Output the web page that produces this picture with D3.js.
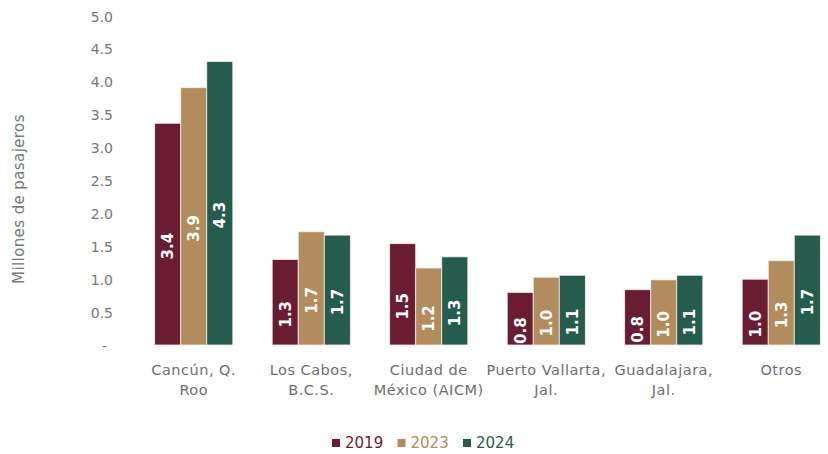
<!DOCTYPE html>
<html>
<head>
<meta charset="utf-8">
<script src="https://cdn.jsdelivr.net/npm/d3@7"></script>
<style>
  body { margin: 0; background: #fff; }
  svg text { font-family: "DejaVu Sans", sans-serif; }
</style>
</head>
<body>
<script>
'use strict';

// airports (two text lines each, as in the source)
const categories = ["Cancún", "Los Cabos", "CDMX", "Puerto Vallarta", "Guadalajara", "Otros"];
const catLines = [
  ["Cancún, Q.", "Roo"],
  ["Los Cabos,", "B.C.S."],
  ["Ciudad de", "México (AICM)"],
  ["Puerto Vallarta,", "Jal."],
  ["Guadalajara,", "Jal."],
  ["Otros", ""]
];
const years = ["2019", "2023", "2024"];
const colors = ["#6a1c32", "#b28c5c", "#255c4d"];

// millions of passengers
const v2019 = [3.37, 1.30, 1.54, 0.80, 0.84, 1.00];
const v2023 = [3.91, 1.72, 1.17, 1.03, 0.99, 1.28];
const v2024 = [4.31, 1.67, 1.34, 1.06, 1.06, 1.67];
const series = [v2019, v2023, v2024];

const yTicks = [0, 0.5, 1, 1.5, 2, 2.5, 3, 3.5, 4, 4.5, 5];

const W = 828, H = 454;

const svg = d3.select("body").append("svg")
  .attr("width", W)
  .attr("height", H);

const x = d3.scaleBand()
  .domain(categories)
  .range([135, 840])
  .paddingInner(0.335)
  .paddingOuter(0.1675);

const xs = d3.scaleBand()
  .domain(years)
  .range([0, x.bandwidth()]);

const y = d3.scaleLinear()
  .domain([0, 5])
  .range([345, 16]);

// y axis, labels only
const yAxis = d3.axisLeft(y)
  .tickValues(yTicks)
  .tickSize(0)
  .tickPadding(0)
  .tickFormat((d) => d === 0 ? "-" : d3.format(".1f")(d));

const gy = svg.append("g")
  .attr("transform", "translate(113,0)")
  .call(yAxis);
gy.select(".domain").remove();
gy.selectAll("text")
  .style("font-size", "14px")
  .attr("fill", "#767676")
  .attr("dy", "0.36em");
gy.selectAll("text").filter((d) => d === 0)
  .attr("dx", "-6px");

svg.append("text")
  .attr("transform", "translate(24,199)rotate(-90)")
  .attr("text-anchor", "middle")
  .style("font-size", "15px")
  .style("letter-spacing", "0.4px")
  .attr("fill", "#767676")
  .text("Millones de pasajeros");

// bars
const fmt = d3.format(".1f");
const rows = [];
categories.forEach((c, i) => {
  years.forEach((yr, j) => {
    rows.push({cat: c, year: yr, idx: j, value: series[j][i]});
  });
});

const bars = svg.append("g");
bars.selectAll("rect")
  .data(rows)
  .enter().append("rect")
    .attr("x", (d) => x(d.cat) + xs(d.year))
    .attr("y", (d) => y(d.value))
    .attr("width", xs.bandwidth())
    .attr("height", (d) => y(0) - y(d.value))
    .attr("fill", (d) => colors[d.idx])
    .attr("stroke", "#f4eeee")
    .attr("stroke-width", 0.8);

// value labels, rotated inside bars
bars.selectAll("text")
  .data(rows)
  .enter().append("text")
    .attr("transform", (d) => {
      const cx = x(d.cat) + xs(d.year) + xs.bandwidth() / 2;
      const cy = (y(d.value) + y(0)) / 2 + 12;
      return "translate(" + cx + "," + cy + ")rotate(-90)";
    })
    .attr("text-anchor", "middle")
    .attr("dy", "0.36em")
    .style("font-size", "15px")
    .style("font-weight", "bold")
    .attr("fill", "#ffffff")
    .text((d) => fmt(d.value));

// category labels
const gx = svg.append("g");
categories.forEach((c, i) => {
  const t = gx.append("text")
    .attr("x", x(c) + x.bandwidth() / 2)
    .attr("y", 375)
    .attr("text-anchor", "middle")
    .style("font-size", "14.5px")
    .style("letter-spacing", "0.5px")
    .attr("fill", "#6e6e6e");
  catLines[i].forEach((line, k) => {
    t.append("tspan")
      .attr("x", x(c) + x.bandwidth() / 2)
      .attr("dy", k === 0 ? 0 : 20)
      .text(line);
  });
});

// legend
const legend = svg.append("g").attr("transform", "translate(332,443)");
const item = legend.selectAll("g")
  .data(years)
  .enter().append("g")
    .attr("transform", (d, i) => "translate(" + (i * 65.5) + ",0)");
item.append("rect")
  .attr("x", 0)
  .attr("y", -4)
  .attr("width", 8)
  .attr("height", 8)
  .attr("fill", (d, i) => colors[i]);
item.append("text")
  .attr("x", 13)
  .attr("dy", "0.36em")
  .style("font-size", "15px")
  .attr("fill", (d, i) => colors[i])
  .text((d) => d);
</script>
</body>
</html>
